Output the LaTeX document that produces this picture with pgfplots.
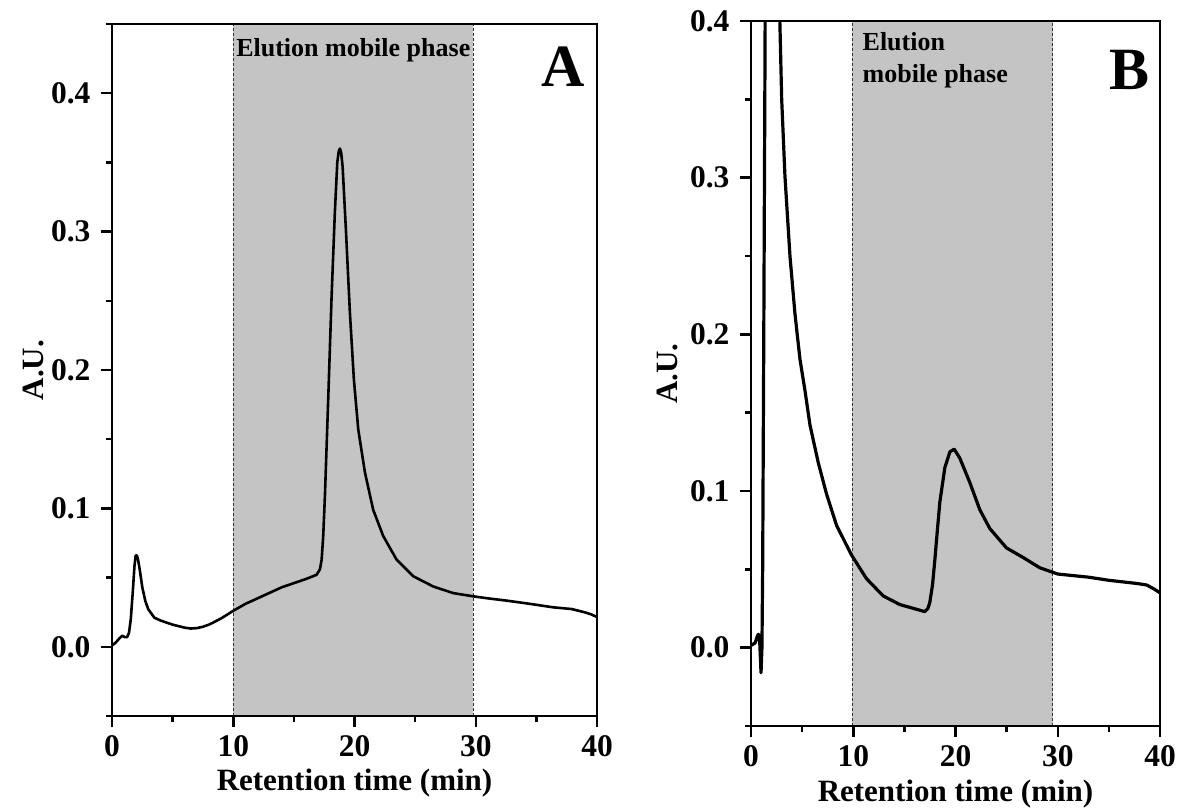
\documentclass[border=0pt]{standalone}
\usepackage{fontspec}
\setmainfont{Liberation Serif}
\usepackage{pgfplots}
\pgfplotsset{compat=1.18}
\definecolor{shade}{RGB}{196,196,196}
\definecolor{dashc}{RGB}{50,50,50}
\pgfplotsset{
  mystyle/.style={
    scale only axis,
    axis line style={line width=2.7pt},
    every tick/.style={line width=2.5pt, black},
    tick align=outside,
    xtick pos=bottom,
    ytick pos=left,
    major tick length=11pt,
    minor tick length=6pt,
    xmin=0, xmax=40,
    xtick={0,10,20,30,40},
    minor xtick={5,15,25,35},
    ticklabel style={font=\fontsize{31.5}{31.5}\selectfont\bfseries},
    /pgf/number format/assume math mode=true,
    yticklabel style={xshift=-7pt, /pgf/number format/.cd, fixed, fixed zerofill, precision=1},
    xticklabel style={yshift=-5pt, /pgf/number format/.cd, fixed, precision=0},
    label style={font=\fontsize{31}{31}\selectfont\bfseries},
    xlabel={Retention time (min)},
    ylabel={A.U.},
    axis on top,
  }
}
\begin{document}
\begin{tikzpicture}
\useasboundingbox (0,0) rectangle (1182pt,811pt);
% ---------------- Panel A ----------------
\begin{axis}[mystyle,
  at={(112pt,95pt)}, anchor=south west,
  width=485pt, height=692pt,
  ymin=-0.05, ymax=0.45,
  ytick={0,0.1,0.2,0.3,0.4},
  minor ytick={-0.05,0.05,0.15,0.25,0.35,0.45},
  xlabel style={at={(axis description cs:0.5,-0.0968)}, anchor=center},
  ylabel style={at={(axis description cs:-0.161,0.5)}, anchor=center},
]
\addplot[draw=none, fill=shade] coordinates {(10,-0.05) (10,0.45) (29.8,0.45) (29.8,-0.05)} -- cycle;
\addplot[dashc, line width=1.1pt, dash pattern=on 3pt off 2pt] coordinates {(10,-0.05) (10,0.45)};
\addplot[dashc, line width=1.1pt, dash pattern=on 3pt off 2pt] coordinates {(29.8,-0.05) (29.8,0.45)};
\addplot[black, line width=2.6pt, line join=round] coordinates {
(0,0.001) (0.3,0.003) (0.6,0.006) (0.85,0.008) (1.05,0.007) (1.25,0.007)
(1.4,0.010) (1.55,0.020) (1.7,0.038) (1.85,0.058) (1.95,0.066) (2.05,0.066) (2.15,0.063)
(2.3,0.055) (2.5,0.043) (2.75,0.033) (3.0,0.027) (3.5,0.021) (4.0,0.019)
(5.0,0.016) (6.0,0.0138) (6.5,0.0132) (7.0,0.0135) (7.5,0.0145) (8.0,0.016)
(9.0,0.0205) (10.0,0.026) (11,0.031) (12,0.035) (13,0.039) (14,0.043)
(15,0.046) (16,0.049) (16.87,0.052) (17.15,0.056) (17.29,0.063) (17.42,0.080)
(17.56,0.109) (17.84,0.181) (18.11,0.253) (18.38,0.314) (18.58,0.350)
(18.7,0.358) (18.8,0.360) (18.9,0.357) (19.02,0.347) (19.29,0.3015) (19.62,0.2415) (19.95,0.193)
(20.31,0.157) (20.86,0.126) (21.54,0.099) (22.37,0.080) (23.47,0.063)
(24.84,0.051) (26.49,0.0436) (28.14,0.0388) (29.7,0.0366) (31,0.035)
(32.6,0.0333) (34.5,0.031) (36.4,0.0285) (37.9,0.0273) (39.0,0.0249)
(39.5,0.0235) (40,0.0215)
};
\node[font=\fontsize{26}{26}\selectfont\bfseries, inner sep=0pt] at (axis cs:19.9,0.431) {Elution mobile phase};
\node[font=\fontsize{60}{60}\selectfont\bfseries, inner sep=0pt] at (axis cs:37.25,0.419) {A};
\end{axis}
% ---------------- Panel B ----------------
\begin{axis}[mystyle,
  at={(751pt,85pt)}, anchor=south west,
  width=409pt, height=705pt,
  ymin=-0.05, ymax=0.4,
  ytick={0,0.1,0.2,0.3,0.4},
  minor ytick={-0.05,0.05,0.15,0.25,0.35},
  xlabel style={at={(axis description cs:0.5,-0.0967)}, anchor=center},
  ylabel style={at={(axis description cs:-0.205,0.5)}, anchor=center},
]
\addplot[draw=none, fill=shade] coordinates {(9.9,-0.05) (9.9,0.4) (29.5,0.4) (29.5,-0.05)} -- cycle;
\addplot[dashc, line width=1.1pt, dash pattern=on 3pt off 2pt] coordinates {(9.9,-0.05) (9.9,0.4)};
\addplot[dashc, line width=1.1pt, dash pattern=on 3pt off 2pt] coordinates {(29.5,-0.05) (29.5,0.4)};
\addplot[black, line width=3.2pt, line join=round] coordinates {
(0,0.0014) (0.4,0.003) (0.6,0.007) (0.72,0.0086) (0.85,0.004) (0.98,-0.016)
(1.07,0.0) (1.14,0.05) (1.25,0.2) (1.37,0.38) (1.5,0.6) (2.0,0.9) (2.6,0.6)
(2.82,0.40) (3.0,0.35) (3.32,0.301) (3.81,0.25) (4.3,0.213) (4.79,0.184)
(5.28,0.164) (5.77,0.142) (6.58,0.118) (7.39,0.098) (8.37,0.078) (9.84,0.059)
(11.3,0.044) (12.93,0.033) (14.56,0.0275) (16.19,0.0245) (17.0,0.023)
(17.3,0.025) (17.49,0.029) (17.75,0.040) (17.98,0.056) (18.2,0.073)
(18.47,0.093) (18.96,0.115) (19.45,0.125) (19.87,0.1267) (20.42,0.121)
(21.4,0.1054) (22.38,0.088) (23.36,0.076) (24.98,0.0637) (26.6,0.0576)
(28.24,0.051) (30,0.047) (33,0.045) (35,0.043) (37.7,0.041) (38.7,0.040)
(39.4,0.0375) (40,0.035)
};
\node[font=\fontsize{26}{32}\selectfont\bfseries, inner sep=0pt, anchor=west, align=left] at (axis cs:10.9,0.375) {Elution\\mobile phase};
\node[font=\fontsize{60}{60}\selectfont\bfseries, inner sep=0pt] at (axis cs:37.0,0.369) {B};
\end{axis}
\end{tikzpicture}
\end{document}
